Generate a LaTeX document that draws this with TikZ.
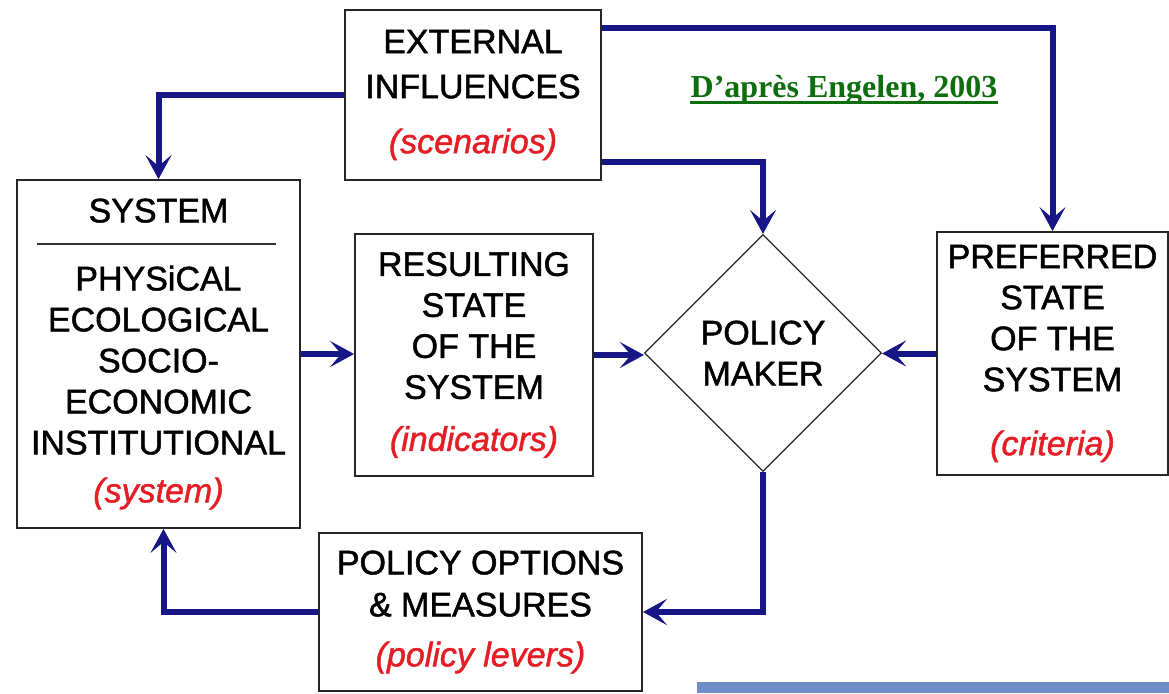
\documentclass[tikz,border=0pt]{standalone}
\usepackage{fontspec}
\setmainfont{Liberation Sans}
\newfontfamily\heavyfont{Liberation Sans}[FakeBold=1.4,ItalicFeatures={FakeBold=1.4}]
\newfontfamily\credfont{Liberation Serif}
\usetikzlibrary{shapes.geometric,arrows.meta}
\definecolor{navy}{RGB}{22,22,135}
\definecolor{lred}{RGB}{228,30,36}
\definecolor{credgreen}{RGB}{14,110,14}
\definecolor{barblue}{RGB}{108,142,200}
\newcommand\redit[1]{\textcolor{lred}{\itshape #1}}
\begin{document}
\begin{tikzpicture}[x=1pt,y=-1pt,
  box/.style={draw=black!85, line width=1.8pt, align=center, inner sep=0pt,
    font=\heavyfont\fontsize{34}{41}\selectfont},
  arr/.style={draw=navy, line width=6pt,
    -{Stealth[length=24pt,width=26pt,inset=11pt]}},
  ]
\useasboundingbox (0,0) rectangle (1169,693);

\node[box, minimum width=256pt, minimum height=170pt] (ext) at (473,95)
  {EXTERNAL\\[4pt]INFLUENCES\\[14pt]\redit{(scenarios)}};
\node[box, minimum width=283pt, minimum height=348pt] (sys) at (158.5,354)
  {SYSTEM\\[27pt]PHYSiCAL\\ECOLOGICAL\\SOCIO-\\ECONOMIC\\INSTITUTIONAL\\[7pt]\redit{(system)}};
\draw[line width=1.5pt, black!80] ([xshift=21pt,yshift=-65pt]sys.north west) -- ([xshift=-25pt,yshift=-65pt]sys.north east);
\node[box, minimum width=238pt, minimum height=242pt] (res) at (474,355)
  {RESULTING\\STATE\\OF THE\\SYSTEM\\[11pt]\redit{(indicators)}};
\node[diamond, aspect=1, draw=black!85, line width=1.2pt, inner sep=0pt,
  minimum width=237pt, minimum height=237pt, align=center,
  font=\heavyfont\fontsize{34}{41}\selectfont] (pm) at (763,353) {POLICY\\MAKER};
\node[box, minimum width=231pt, minimum height=243pt] (pref) at (1052.5,353.5)
  {PREFERRED\\STATE\\OF THE\\SYSTEM\\[23pt]\redit{(criteria)}};
\node[box, minimum width=323pt, minimum height=158pt] (pol) at (480.5,612)
  {POLICY OPTIONS\\[1pt]\& MEASURES\\[9pt]\redit{(policy levers)}};

\node[text=credgreen, inner sep=0pt, font=\credfont\bfseries\fontsize{32}{36}\selectfont] (cred) at (844,90)
  {D’après Engelen, 2003};
\draw[credgreen, line width=3pt] ([yshift=-5pt]cred.base west) -- ([yshift=-5pt]cred.base east);

\fill[barblue] (697,682) rectangle (1169,693);

\draw[arr] (ext.west) -| (sys.north);
\draw[arr] ([yshift=67pt]ext.east) -| (pref.north);
\draw[arr] ([yshift=-67pt]ext.east) -| (pm.north);
\draw[arr] (sys.east) -- (sys.east -| res.west);
\draw[arr] (res.east) -- (res.east -| pm.west);
\draw[arr] (pref.west) -- (pref.west -| pm.east);
\draw[arr] (pm.south) |- (pol.east);
\draw[arr] (pol.west) -| ([xshift=5pt]sys.south);
\end{tikzpicture}
\end{document}
